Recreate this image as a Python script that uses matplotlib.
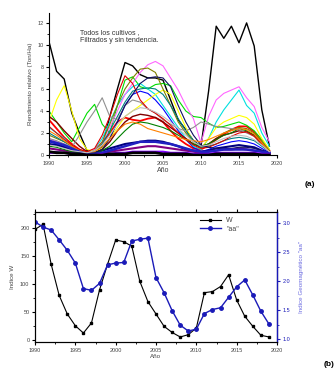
import numpy as np
import matplotlib
matplotlib.use("Agg")
import matplotlib.pyplot as plt
from matplotlib.ticker import MultipleLocator

plt.rcParams.update({
    "font.family": ["Liberation Sans", "DejaVu Sans"],
    "font.size": 4,
    "axes.linewidth": 0.8,
})

# ---------- panel (a): filtered, detrended relative yields ----------
years_a = list(range(1990, 2020))

crop_colors = ["#000000", "#FF0000", "#00DD00", "#0000FF", "#00E0E0", "#FF66FF",
               "#FFFF00", "#808000", "#000080", "#800080", "#800000", "#008000",
               "#008080", "#909090", "#E00000", "#101060", "#FF8000", "#2020C0",
               "#8000FF", "#C0C0C0", "#000000"]
crop_widths = [1.0, 1.3, 0.8, 0.8, 0.8, 0.8, 0.8, 0.8, 1.5, 1.5, 1.0, 0.8,
               0.8, 0.8, 0.8, 0.8, 0.8, 1.8, 1.5, 0.8, 2.0]
crop_yields = [
    [10.3, 7.6, 6.9, 3.8, 2.0, 0.4, 0.2, 0.8, 3.5, 6.0, 8.4, 8.1, 7.3, 7.0, 7.0, 6.8, 5.0, 3.2, 2.3, 1.3, 0.8, 5.8, 11.7, 10.6, 11.7, 10.2, 12.0, 9.9, 4.1, 0.8],
    [3.2, 2.4, 1.6, 1.0, 0.5, 0.2, 0.3, 1.0, 2.0, 3.0, 3.4, 3.2, 3.1, 3.3, 3.4, 3.0, 2.2, 1.5, 1.0, 0.6, 0.5, 0.9, 1.4, 1.9, 2.3, 2.6, 2.6, 2.1, 1.2, 0.4],
    [4.0, 3.0, 2.0, 1.2, 2.5, 3.8, 4.6, 2.8, 2.0, 4.5, 6.8, 7.1, 6.2, 6.0, 6.4, 6.5, 6.3, 5.0, 4.0, 3.5, 3.4, 2.9, 2.5, 2.6, 2.8, 3.0, 2.7, 2.2, 1.4, 0.5],
    [1.2, 1.0, 0.8, 0.5, 0.3, 0.1, 0.2, 0.6, 1.5, 3.0, 4.5, 5.5, 5.8, 5.6, 5.0, 4.2, 3.2, 2.2, 1.4, 0.7, 0.3, 0.5, 0.8, 1.0, 1.2, 1.3, 1.2, 1.0, 0.6, 0.2],
    [2.5, 2.0, 1.5, 0.8, 0.3, 0.1, 0.5, 1.5, 3.0, 4.5, 5.5, 6.2, 6.5, 6.0, 5.5, 4.5, 3.5, 2.5, 1.5, 0.8, 0.5, 1.5, 3.0, 4.1, 5.0, 5.9, 4.5, 3.8, 2.0, 0.8],
    [1.5, 1.2, 1.0, 0.7, 0.4, 0.2, 0.5, 1.2, 2.5, 4.0, 5.5, 6.5, 7.5, 8.2, 8.5, 8.1, 7.0, 5.9, 4.5, 3.3, 1.1, 3.5, 5.0, 5.6, 5.9, 6.2, 5.2, 4.4, 2.5, 1.2],
    [3.0, 5.0, 6.3, 4.0, 1.5, 0.5, 0.3, 0.6, 1.5, 2.5, 3.5, 4.0, 4.5, 5.0, 5.5, 5.9, 5.5, 4.0, 2.5, 1.2, 0.6, 1.5, 2.5, 3.0, 3.3, 3.6, 3.4, 2.8, 1.5, 0.5],
    [1.8, 1.5, 1.2, 0.8, 0.4, 0.2, 0.4, 1.2, 2.8, 4.5, 6.0, 7.0, 7.8, 7.9, 7.5, 6.0, 4.5, 3.0, 2.0, 1.2, 0.8, 1.0, 1.5, 2.0, 2.3, 2.5, 2.4, 2.0, 1.2, 0.4],
    [1.0, 0.9, 0.7, 0.5, 0.3, 0.2, 0.2, 0.4, 0.6, 0.8, 1.0, 1.1, 1.2, 1.3, 1.3, 1.2, 1.0, 0.8, 0.5, 0.4, 0.3, 0.4, 0.6, 0.7, 0.8, 0.9, 0.8, 0.7, 0.4, 0.2],
    [0.6, 0.5, 0.4, 0.3, 0.2, 0.1, 0.1, 0.2, 0.3, 0.4, 0.5, 0.6, 0.7, 0.8, 0.8, 0.7, 0.6, 0.5, 0.4, 0.3, 0.2, 0.3, 0.4, 0.5, 0.5, 0.6, 0.5, 0.4, 0.3, 0.1],
    [3.5, 3.0, 2.2, 1.5, 0.8, 0.3, 0.2, 0.5, 1.2, 2.2, 3.0, 3.5, 3.7, 3.6, 3.4, 3.0, 2.5, 2.0, 1.5, 1.0, 0.7, 1.0, 1.5, 1.8, 2.0, 2.2, 2.1, 1.8, 1.0, 0.3],
    [0.8, 0.7, 0.5, 0.3, 0.2, 0.1, 0.2, 0.4, 0.8, 1.5, 2.2, 2.8, 3.0, 2.9, 2.7, 2.5, 2.2, 1.8, 1.4, 1.0, 0.8, 1.0, 1.4, 1.8, 2.0, 2.4, 2.2, 1.8, 1.0, 0.3],
    [2.0, 1.6, 1.2, 0.8, 0.4, 0.1, 0.3, 1.0, 2.2, 3.5, 4.8, 5.8, 6.0, 6.1, 6.0, 5.5, 4.5, 3.3, 2.2, 1.3, 0.7, 0.8, 1.0, 1.3, 1.5, 1.6, 1.5, 1.3, 0.8, 0.3],
    [1.5, 1.3, 1.0, 0.7, 1.8, 3.0, 4.0, 5.2, 3.5, 3.2, 4.5, 5.0, 4.8, 4.2, 3.8, 3.2, 2.8, 2.4, 2.2, 2.5, 3.0, 2.8, 2.6, 2.5, 2.4, 2.3, 2.0, 1.7, 1.0, 0.3],
    [2.6, 2.0, 1.4, 0.9, 0.5, 0.3, 0.6, 1.8, 3.5, 5.5, 7.2, 6.5, 5.0, 4.2, 3.8, 3.3, 2.7, 2.0, 1.4, 0.9, 0.6, 0.7, 1.0, 1.3, 1.7, 2.0, 2.1, 1.7, 1.0, 0.3],
    [0.3, 0.3, 0.2, 0.2, 0.1, 0.1, 0.2, 0.5, 1.5, 3.0, 4.5, 5.5, 6.5, 7.0, 7.1, 7.0, 6.2, 4.5, 3.0, 1.8, 0.9, 0.7, 0.6, 0.6, 0.6, 0.7, 0.7, 0.6, 0.4, 0.2],
    [2.2, 1.8, 1.3, 0.8, 0.4, 0.2, 0.3, 0.8, 1.5, 2.2, 2.8, 3.0, 2.8, 2.4, 2.2, 2.0, 1.8, 1.6, 1.4, 1.3, 1.2, 1.4, 1.7, 2.0, 2.2, 2.4, 2.3, 1.9, 1.1, 0.3],
    [1.3, 1.1, 0.9, 0.6, 0.3, 0.1, 0.1, 0.2, 0.4, 0.6, 0.8, 1.0, 1.2, 1.2, 1.2, 1.1, 1.0, 0.8, 0.6, 0.4, 0.3, 0.3, 0.4, 0.5, 0.5, 0.5, 0.5, 0.4, 0.3, 0.2],
    [0.2, 0.2, 0.2, 0.1, 0.1, 0.0, 0.0, 0.1, 0.1, 0.2, 0.2, 0.3, 0.3, 0.3, 0.3, 0.3, 0.2, 0.2, 0.2, 0.1, 0.1, 0.1, 0.2, 0.2, 0.2, 0.2, 0.2, 0.2, 0.1, 0.1],
    [0.9, 0.8, 0.6, 0.4, 0.3, 0.2, 0.4, 0.9, 1.8, 2.8, 3.5, 4.0, 4.3, 4.2, 3.9, 3.5, 3.0, 2.4, 1.8, 1.2, 0.8, 0.9, 1.2, 1.5, 1.7, 1.8, 1.7, 1.4, 0.9, 0.3],
    [0.3, 0.2, 0.2, 0.1, 0.1, 0.0, 0.0, 0.0, 0.1, 0.1, 0.1, 0.2, 0.2, 0.2, 0.2, 0.1, 0.1, 0.1, 0.1, 0.0, 0.0, 0.0, 0.1, 0.1, 0.1, 0.1, 0.1, 0.1, 0.0, 0.0],
]

# ---------- panel (b): W index and geomagnetic aa index ----------
years_b = list(range(1990, 2020))
w_index = [197, 206, 135, 79, 46, 25, 12, 30, 89, 135, 178, 175, 167, 104, 68,
           46, 24, 13, 5, 9, 21, 84, 86, 95, 116, 71, 42, 24, 8, 5]
aa_index = [3.02, 2.93, 2.88, 2.71, 2.53, 2.31, 1.87, 1.84, 1.96, 2.28, 2.31, 2.32,
            2.69, 2.72, 2.74, 2.06, 1.80, 1.49, 1.24, 1.14, 1.17, 1.44, 1.51, 1.54,
            1.72, 1.90, 2.02, 1.76, 1.48, 1.26]

TXT = "#444444"
BLUE = "#1a1ab8"

fig = plt.figure(figsize=(3.35, 3.72), dpi=100)

# ----- (a) -----
ax1 = fig.add_axes([49 / 335, 1 - 155 / 372, 228 / 335, 142 / 372])
for vals, c, lw in zip(crop_yields, crop_colors, crop_widths):
    ax1.plot(years_a, vals, color=c, lw=lw)
ax1.set_xlim(1990, 2020)
ax1.set_ylim(0, 12.9)
ax1.spines["top"].set_visible(False)
ax1.spines["right"].set_visible(False)
ax1.xaxis.set_major_locator(MultipleLocator(5))
ax1.xaxis.set_minor_locator(MultipleLocator(2.5))
ax1.yaxis.set_major_locator(MultipleLocator(2))
ax1.yaxis.set_minor_locator(MultipleLocator(1))
ax1.tick_params(which="major", direction="out", length=2.5, width=0.8,
                labelsize=4, labelcolor=TXT, pad=1.5)
ax1.tick_params(which="minor", direction="out", length=1.5, width=0.6)
ax1.set_xlabel("Año", fontsize=5, color=TXT, labelpad=1)
ax1.set_ylabel("Rendimiento relativo (Ton/Ha)", fontsize=4.5, color=TXT, labelpad=3)

fig.text(80 / 335, 1 - 29 / 372, "Todos los cultivos ,\nFiltrados y sin tendencia.",
         fontsize=5, color="#333333", va="top", ha="left", linespacing=1.3)
fig.text(310 / 335, 1 - 185 / 372, "(a)", fontsize=6, fontweight="bold",
         ha="center", va="center")

# ----- (b) -----
ax2 = fig.add_axes([35 / 335, 1 - 342 / 372, 242 / 335, 130 / 372])
ax2.plot(years_b, w_index, color="black", lw=0.8, marker="s", ms=2,
         label="W")
ax2.set_xlim(1990, 2020)
ax2.set_ylim(-4, 228)
ax2.xaxis.set_major_locator(MultipleLocator(5))
ax2.xaxis.set_minor_locator(MultipleLocator(2.5))
ax2.yaxis.set_major_locator(MultipleLocator(50))
ax2.yaxis.set_minor_locator(MultipleLocator(25))
ax2.tick_params(which="major", direction="out", length=2.5, width=0.8,
                labelsize=4, labelcolor=TXT, pad=1.5)
ax2.tick_params(which="minor", direction="out", length=1.5, width=0.6)
ax2.tick_params(axis="x", which="both", top=True)
ax2.set_xlabel("Año", fontsize=4.5, color=TXT, labelpad=1)
ax2.set_ylabel("Indice W", fontsize=4.5, color=TXT, labelpad=4)

ax3 = ax2.twinx()
ax3.plot(years_b, aa_index, color=BLUE, lw=1.0, marker="o", ms=2.5,
         label='"aa"')
ax3.set_ylim(0.95, 3.19)
ax3.yaxis.set_major_locator(MultipleLocator(0.5))
ax3.yaxis.set_minor_locator(MultipleLocator(0.25))
ax3.tick_params(which="major", direction="out", length=2.5, width=0.8,
                labelsize=4, colors=BLUE, pad=1.5)
ax3.tick_params(which="minor", direction="out", length=1.5, width=0.6, colors=BLUE)
ax3.yaxis.set_major_formatter(plt.FuncFormatter(lambda v, p: f"{v:.1f}"))
ax3.spines["right"].set_color(BLUE)
ax3.spines["right"].set_linewidth(1.0)
ax3.set_ylabel('Indice Geomagnético "aa"', fontsize=4.5, color="#6a6ae0",
               labelpad=6)

h1, l1 = ax2.get_legend_handles_labels()
h2, l2 = ax3.get_legend_handles_labels()
ax3.legend(h1 + h2, l1 + l2, loc="upper right", bbox_to_anchor=(0.86, 0.99),
           frameon=False, fontsize=5, handlelength=3, labelspacing=0.2,
           borderaxespad=0.2, labelcolor=TXT)

fig.text(324 / 335, 1 - 365 / 372, "(b)", fontsize=6, fontweight="bold",
         ha="left", va="center")

fig.savefig("out.png", dpi=100)
